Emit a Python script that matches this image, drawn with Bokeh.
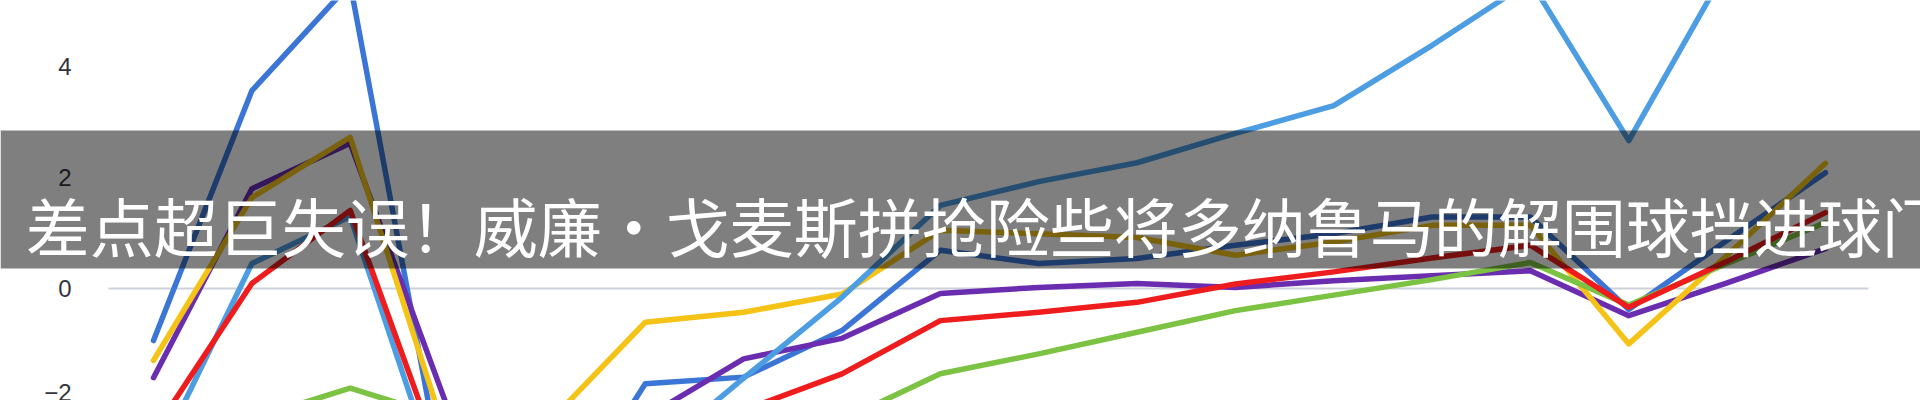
from bokeh.plotting import figure
from bokeh.models import BoxAnnotation, Label, FixedTicker, Range1d, LinearAxis
from bokeh.embed import file_html
from bokeh.resources import INLINE

# x positions (matches / rounds)
rounds = list(range(18))

# series values
medium_blue = [-0.94, 3.57, 5.5, -4.0, -4.5, -1.72, -1.6, -0.76, 0.69, 0.45, 0.54, 0.78, 0.99, 1.29, 1.29, -0.38, 0.87, 2.09]
light_blue = [-3.2, 0.45, 1.3, -4.0, -4.5, -3.1, -1.62, -0.16, 1.5, 1.93, 2.27, 2.8, 3.3, 4.39, 5.55, 2.67, 5.8, 6.5]
yellow = [-1.3, 1.64, 2.73, -2.8, -2.45, -0.61, -0.43, -0.1, 1.05, 0.99, 0.92, 0.6, 0.84, 1.14, 1.14, -1.0, 0.6, 2.26]
purple = [-1.61, 1.8, 2.62, -2.2, -2.6, -2.33, -1.27, -0.9, -0.09, 0.02, 0.09, 0.02, 0.14, 0.23, 0.32, -0.49, 0.1, 0.72]
red = [-2.6, 0.09, 1.41, -3.5, -3.5, -3.0, -2.2, -1.54, -0.58, -0.43, -0.25, 0.08, 0.3, 0.55, 0.78, -0.34, 0.49, 1.37]
green = [-3.0, -2.35, -1.8, -2.35, -3.0, -3.0, -2.8, -2.38, -1.54, -1.18, -0.79, -0.4, -0.12, 0.16, 0.47, -0.3, 0.45, 1.19]

y_ticks = [-2, 0, 2, 4]
caption = "差点超巨失误！威廉·戈麦斯拼抢险些将多纳鲁马的解围球挡进球门"

# original chart area (x extent of the baseline) and visible window
plot_x0, plot_x1 = -0.4575, 17.437
view_x0, view_x1 = -1.5557, 17.966
view_y0, view_y1 = -2.022, 5.199

p = figure(width=1920, height=400, output_backend="svg", toolbar_location=None,
           x_range=Range1d(view_x0, view_x1), y_range=Range1d(view_y0, view_y1),
           x_axis_location=None, y_axis_location=None,
           min_border_left=0, min_border_right=0,
           min_border_top=0, min_border_bottom=0)
p.outline_line_color = None
p.background_fill_color = "white"
p.border_fill_color = "white"
p.grid.visible = False

ax = LinearAxis(fixed_location=plot_x0)
ax.ticker = FixedTicker(ticks=y_ticks)
ax.axis_line_color = None
ax.major_tick_line_color = None
ax.minor_tick_line_color = None
ax.major_label_standoff = 31
ax.major_label_text_font = "Liberation Sans"
ax.major_label_text_font_size = "24px"
ax.major_label_text_color = "#34343c"
p.add_layout(ax, "left")

# zero baseline across the chart area
p.segment(x0=[plot_x0], x1=[plot_x1], y0=[0], y1=[0], line_color="#cdd1da", line_width=2)

series = [
    (medium_blue, "#3b76d6"),
    (purple, "#6a2db0"),
    (yellow, "#f5c216"),
    (green, "#7cc243"),
    (light_blue, "#4c9de2"),
    (red, "#ee1c1c"),
]
for vals, col in series:
    p.line(rounds, vals, line_color=col, line_width=5.5, line_join="round", line_cap="round")

banner = BoxAnnotation(top=2.852, bottom=0.361,
                       fill_color="black", fill_alpha=0.5, line_color=None)
p.add_layout(banner)

lab = Label(x=-1.30, y=1.16, text=caption, text_color="white",
            text_font="Noto Sans CJK SC", text_font_size="64px",
            text_baseline="alphabetic", text_align="left")
p.add_layout(lab)

open("out.html", "w").write(file_html(p, INLINE))
